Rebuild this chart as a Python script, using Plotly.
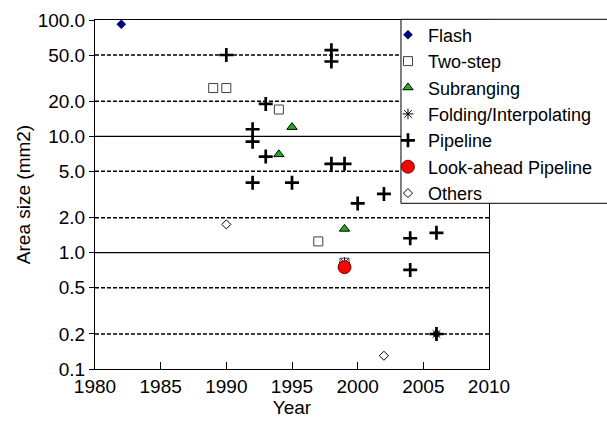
import plotly.graph_objects as go

# ---- data ----
flash_year = [1982, 2006]
flash_area = [92, 0.2]
flash_color = ["#000080", "#006666"]

twostep_year = [1989, 1990, 1994, 1997, 1999]
twostep_area = [26, 26, 17, 1.25, 0.82]

sub_year = [1994, 1995, 1999]
sub_area = [7.0, 12.0, 1.6]

fold_year = [1999, 2006]
fold_area = [0.82, 0.2]

pipe_year = [1990, 1992, 1992, 1992, 1993, 1993, 1995, 1998, 1998, 1998, 1999,
             2000, 2002, 2004, 2004, 2006, 2006]
pipe_area = [50, 11.5, 9.0, 4.0, 19, 6.7, 4.0, 55, 44, 5.8, 5.8,
             2.65, 3.2, 1.33, 0.71, 1.48, 0.2]

look_year = [1999]
look_area = [0.75]

other_year = [1990, 2002]
other_area = [1.75, 0.13]

y_ticks = [0.1, 0.2, 0.5, 1, 2, 5, 10, 20, 50, 100]
y_ticktext = [f"{v:.1f}" for v in y_ticks]
x_ticks = [1980, 1985, 1990, 1995, 2000, 2005, 2010]

FONT = "Liberation Sans, Arial, sans-serif"
FS = 19
LFS = 18

fig = go.Figure()
fig.add_trace(go.Scatter(x=flash_year, y=flash_area, mode="markers", name="Flash",
                         marker=dict(symbol="diamond", size=7, color=flash_color,
                                     line=dict(width=0.5, color="#000040"))))
fig.add_trace(go.Scatter(x=twostep_year, y=twostep_area, mode="markers", name="Two-step",
                         marker=dict(symbol="square", size=9, color="white",
                                     line=dict(width=1, color="#404040"))))
fig.add_trace(go.Scatter(x=sub_year, y=sub_area, mode="markers", name="Subranging",
                         marker=dict(symbol="triangle-up", size=9, color="#22aa22",
                                     line=dict(width=1, color="#000000"))))
fig.add_trace(go.Scatter(x=fold_year, y=fold_area, mode="markers", name="Folding/Interpolating",
                         marker=dict(symbol="asterisk-open", size=9, color="black",
                                     line=dict(width=1, color="black"))))
fig.add_trace(go.Scatter(x=pipe_year, y=pipe_area, mode="markers", name="Pipeline",
                         marker=dict(symbol="cross-thin-open", size=10, color="black",
                                     line=dict(width=2.7, color="black"))))
fig.add_trace(go.Scatter(x=look_year, y=look_area, mode="markers", name="Look-ahead Pipeline",
                         marker=dict(symbol="circle", size=13, color="#ff0000",
                                     line=dict(width=0.8, color="#400000"))))
fig.add_trace(go.Scatter(x=other_year, y=other_area, mode="markers", name="Others",
                         marker=dict(symbol="diamond", size=7, color="white",
                                     line=dict(width=1, color="black"))))

shapes = []
for v in y_ticks[1:-1]:
    solid = str(v).replace("0", "").replace(".", "") == "1"
    shapes.append(dict(type="line", xref="paper", yref="y", x0=0, x1=1, y0=v, y1=v,
                       layer="below",
                       line=dict(color="black", width=1.3 if solid else 1.5,
                                 dash="solid" if solid else "4px,2px")))
# legend frame (white box with black border, cut by the right page edge)
shapes.append(dict(type="rect", xref="paper", yref="paper",
                   x0=0.7766, x1=1.5, y0=0.4748, y1=1.002, layer="above",
                   fillcolor="white", line=dict(color="black", width=1)))

fig.update_layout(
    width=607, height=440,
    margin=dict(l=95, r=118, t=20, b=71, autoexpand=False),
    paper_bgcolor="white", plot_bgcolor="white",
    font=dict(family=FONT, size=FS, color="black"),
    shapes=shapes,
    showlegend=True,
    legend=dict(x=0.7766 - 13 / 394, y=1.010, xanchor="left", yanchor="top",
                bgcolor="rgba(0,0,0,0)", borderwidth=0,
                font=dict(family=FONT, size=LFS, color="black"),
                tracegroupgap=0),
    xaxis=dict(range=[1980, 2010], tickvals=x_ticks, ticks="inside", ticklen=7,
               tickcolor="black", showline=True, linecolor="black", linewidth=1,
               mirror=True, showgrid=False, zeroline=False,
               title=dict(text="Year", font=dict(size=FS), standoff=3),
               tickfont=dict(size=FS)),
    yaxis=dict(type="log", range=[-1, 2], tickvals=y_ticks, ticktext=y_ticktext,
               ticks="outside", ticklen=5, tickcolor="black", showline=True,
               linecolor="black", linewidth=1, mirror=True, showgrid=False,
               zeroline=False,
               title=dict(text="Area size (mm2)", font=dict(size=FS), standoff=2),
               tickfont=dict(size=FS)),
)

fig.write_html("out.html")
